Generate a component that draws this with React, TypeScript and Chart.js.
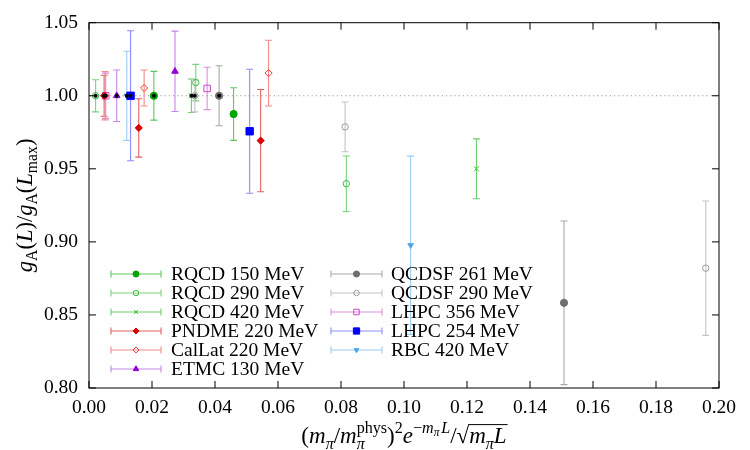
import React, { useEffect, useRef } from "react";
import { Chart, registerables } from "chart.js";
import { drawPoint } from "chart.js/helpers";

Chart.register(...registerables);

// x = (m_pi/m_pi^phys)^2 exp(-m_pi L)/sqrt(m_pi L),  y = gA(L)/gA(Lmax),  err = 1 sigma
const rqcd150X = [0.0206, 0.0459];
const rqcd150Y = [1.0, 0.9875];
const rqcd150Err = [0.0167, 0.018];

const rqcd290X = [0.0021, 0.0339, 0.0817];
const rqcd290Y = [1.0, 1.009, 0.9398];
const rqcd290Err = [0.011, 0.0125, 0.019];

const rqcd420X = [0.0325, 0.123];
const rqcd420Y = [1.0, 0.95];
const rqcd420Err = [0.0115, 0.0205];

const pndmeX = [0.0048, 0.0158, 0.0545];
const pndmeY = [1.0, 0.978, 0.9693];
const pndmeErr = [0.014, 0.02, 0.035];

const callatX = [0.0051, 0.0175, 0.057];
const callatY = [1.0, 1.0053, 1.0155];
const callatErr = [0.0165, 0.0123, 0.0225];

const etmcX = [0.0088, 0.0273];
const etmcY = [1.0, 1.0167];
const etmcErr = [0.0176, 0.0275];

const qcdsf261X = [0.0413, 0.1508];
const qcdsf261Y = [1.0, 0.8583];
const qcdsf261Err = [0.0205, 0.056];

const qcdsf290X = [0.0336, 0.0813, 0.1958];
const qcdsf290Y = [1.0, 0.9787, 0.882];
const qcdsf290Err = [0.011, 0.017, 0.046];

const lhpc356X = [0.0053, 0.0375];
const lhpc356Y = [1.0, 1.005];
const lhpc356Err = [0.0155, 0.0145];

const lhpc254X = [0.0132, 0.051];
const lhpc254Y = [1.0, 0.9757];
const lhpc254Err = [0.0445, 0.0424];

const rbcX = [0.012, 0.1021];
const rbcY = [1.0, 0.8977];
const rbcErr = [0.0305, 0.061];

// normalisation level (the largest volume of each ensemble)
const refLevel = 1.0;

const xRange = [0, 0.2];
const xStep = 0.02;
const yRange = [0.8, 1.05];
const yStep = 0.05;

const FONT = '"Liberation Serif", "DejaVu Serif", serif';

type Series = {
  label: string;
  xs: number[];
  ys: number[];
  errs: number[];
  color: string;
  bar: string;
  style: string;
  filled: boolean;
  radius: number;
  rotation?: number;
};

const series: Series[] = [
  { label: "RQCD 150 MeV", xs: rqcd150X, ys: rqcd150Y, errs: rqcd150Err, color: "#00a400", bar: "#5cc85c", style: "circle", filled: true, radius: 3.6 },
  { label: "RQCD 290 MeV", xs: rqcd290X, ys: rqcd290Y, errs: rqcd290Err, color: "#3cbc3c", bar: "#78d478", style: "circle", filled: false, radius: 3.2 },
  { label: "RQCD 420 MeV", xs: rqcd420X, ys: rqcd420Y, errs: rqcd420Err, color: "#3cbc3c", bar: "#6ccc6c", style: "crossRot", filled: false, radius: 3.6 },
  { label: "PNDME 220 MeV", xs: pndmeX, ys: pndmeY, errs: pndmeErr, color: "#dd0000", bar: "#e46060", style: "rectRot", filled: true, radius: 3.6 },
  { label: "CalLat 220 MeV", xs: callatX, ys: callatY, errs: callatErr, color: "#ee3a3a", bar: "#f28a8a", style: "rectRot", filled: false, radius: 3.6 },
  { label: "ETMC 130 MeV", xs: etmcX, ys: etmcY, errs: etmcErr, color: "#9400d3", bar: "#c487e8", style: "triangle", filled: true, radius: 3.8 },
  { label: "QCDSF 261 MeV", xs: qcdsf261X, ys: qcdsf261Y, errs: qcdsf261Err, color: "#6e6e6e", bar: "#a8a8a8", style: "circle", filled: true, radius: 3.6 },
  { label: "QCDSF 290 MeV", xs: qcdsf290X, ys: qcdsf290Y, errs: qcdsf290Err, color: "#9a9a9a", bar: "#c4c4c4", style: "circle", filled: false, radius: 3.2 },
  { label: "LHPC 356 MeV", xs: lhpc356X, ys: lhpc356Y, errs: lhpc356Err, color: "#cc44cc", bar: "#dc8edc", style: "rect", filled: false, radius: 4.6 },
  { label: "LHPC 254 MeV", xs: lhpc254X, ys: lhpc254Y, errs: lhpc254Err, color: "#0000ff", bar: "#8c8cff", style: "rect", filled: true, radius: 5.2 },
  { label: "RBC 420 MeV", xs: rbcX, ys: rbcY, errs: rbcErr, color: "#4aa8e8", bar: "#9ccdf0", style: "triangle", filled: true, radius: 3.2, rotation: 180 },
];

// ---- small rich-text helper for axis titles (sub/superscripts, overline) ----
type Tok = { t: string; it?: boolean; s?: number; dy?: number; stack?: Tok; over?: boolean };

const xTitle: Tok[] = [
  { t: "(" },
  { t: "m", it: true },
  { t: "π", it: true, s: 0.7, dy: 0.24 },
  { t: "/" },
  { t: "m", it: true },
  { t: "π", it: true, s: 0.7, dy: 0.24, stack: { t: "phys", s: 0.7, dy: -0.45 } },
  { t: ")" },
  { t: "2", s: 0.7, dy: -0.42 },
  { t: "e", it: true },
  { t: "−", s: 0.7, dy: -0.42 },
  { t: "m", it: true, s: 0.7, dy: -0.42 },
  { t: "π", it: true, s: 0.5, dy: -0.3 },
  { t: " " , s: 0.3 },
  { t: "L", it: true, s: 0.7, dy: -0.42 },
  { t: "/" },
  { t: "√" },
  { t: "m", it: true, over: true },
  { t: "π", it: true, s: 0.7, dy: 0.24, over: true },
  { t: "L", it: true, over: true },
];

const yTitle: Tok[] = [
  { t: "g", it: true },
  { t: "A", s: 0.7, dy: 0.24 },
  { t: "(" },
  { t: "L", it: true },
  { t: ")" },
  { t: "/" },
  { t: "g", it: true },
  { t: "A", s: 0.7, dy: 0.24 },
  { t: "(" },
  { t: "L", it: true },
  { t: "max", s: 0.7, dy: 0.24 },
  { t: ")" },
];

function tokFont(tok: Tok, size: number) {
  return `${tok.it ? "italic " : ""}${size * (tok.s ?? 1)}px ${FONT}`;
}

function tokWidth(ctx: CanvasRenderingContext2D, tok: Tok, size: number) {
  ctx.font = tokFont(tok, size);
  let w = ctx.measureText(tok.t).width;
  if (tok.stack) {
    ctx.font = tokFont(tok.stack, size);
    w = Math.max(w, ctx.measureText(tok.stack.t).width);
  }
  return w;
}

function drawRich(ctx: CanvasRenderingContext2D, toks: Tok[], cx: number, base: number, size: number) {
  const widths = toks.map((t) => tokWidth(ctx, t, size));
  const total = widths.reduce((a, b) => a + b, 0);
  let x = cx - total / 2;
  let overStart = -1;
  let overEnd = -1;
  ctx.fillStyle = "#000";
  ctx.textBaseline = "alphabetic";
  ctx.textAlign = "left";
  toks.forEach((tok, i) => {
    ctx.font = tokFont(tok, size);
    ctx.fillText(tok.t, x, base + (tok.dy ?? 0) * size);
    if (tok.stack) {
      ctx.font = tokFont(tok.stack, size);
      ctx.fillText(tok.stack.t, x, base + (tok.stack.dy ?? 0) * size);
    }
    if (tok.over) {
      if (overStart < 0) overStart = x;
      overEnd = x + widths[i];
    }
    x += widths[i];
  });
  if (overStart >= 0) {
    ctx.strokeStyle = "#000";
    ctx.lineWidth = 1;
    ctx.beginPath();
    const yo = base - size * 0.8;
    ctx.moveTo(overStart - 1, yo);
    ctx.lineTo(overEnd + 1, yo);
    ctx.stroke();
  }
}

function setMarkerPaint(ctx: CanvasRenderingContext2D, s: Series) {
  ctx.strokeStyle = s.color;
  ctx.fillStyle = s.filled ? s.color : "rgba(0,0,0,0)";
  ctx.lineWidth = 1;
}

const decorations = {
  id: "decorations",
  beforeDatasetsDraw(chart: any) {
    const { ctx, chartArea: a, scales } = chart;
    const xs = scales.x;
    const ys = scales.y;
    ctx.save();
    ctx.beginPath();
    ctx.rect(a.left, a.top, a.right - a.left, a.bottom - a.top);
    ctx.clip();
    // dotted reference level
    const yr = ys.getPixelForValue(refLevel);
    ctx.strokeStyle = "#9a9a9a";
    ctx.lineWidth = 1;
    ctx.setLineDash([1.2, 3]);
    ctx.beginPath();
    ctx.moveTo(a.left, yr);
    ctx.lineTo(a.right, yr);
    ctx.stroke();
    ctx.setLineDash([]);
    // error bars
    series.forEach((s) => {
      ctx.strokeStyle = s.bar;
      ctx.lineWidth = 1.1;
      s.xs.forEach((xv, i) => {
        const px = xs.getPixelForValue(xv);
        const lo = ys.getPixelForValue(s.ys[i] - s.errs[i]);
        const hi = ys.getPixelForValue(s.ys[i] + s.errs[i]);
        ctx.beginPath();
        ctx.moveTo(px, lo);
        ctx.lineTo(px, hi);
        ctx.moveTo(px - 3.5, lo);
        ctx.lineTo(px + 3.5, lo);
        ctx.moveTo(px - 3.5, hi);
        ctx.lineTo(px + 3.5, hi);
        ctx.stroke();
      });
    });
    ctx.restore();
  },
  afterDatasetsDraw(chart: any) {
    const { ctx, scales } = chart;
    // reference-volume points are marked with a black centre dot
    ctx.save();
    ctx.fillStyle = "#000";
    series.forEach((s) => {
      s.xs.forEach((xv, i) => {
        if (s.ys[i] !== refLevel) return;
        ctx.beginPath();
        ctx.arc(scales.x.getPixelForValue(xv), scales.y.getPixelForValue(s.ys[i]), 2, 0, Math.PI * 2);
        ctx.fill();
      });
    });
    ctx.restore();
  },
  afterDraw(chart: any) {
    const { ctx, chartArea: a, scales } = chart;
    ctx.save();
    // frame with inward ticks on all four sides
    ctx.strokeStyle = "#000";
    ctx.lineWidth = 1;
    ctx.strokeRect(a.left, a.top, a.right - a.left, a.bottom - a.top);
    const tl = 7;
    ctx.beginPath();
    scales.x.ticks.forEach((t: any) => {
      const px = scales.x.getPixelForValue(t.value);
      ctx.moveTo(px, a.bottom);
      ctx.lineTo(px, a.bottom - tl);
      ctx.moveTo(px, a.top);
      ctx.lineTo(px, a.top + tl);
    });
    scales.y.ticks.forEach((t: any) => {
      const py = scales.y.getPixelForValue(t.value);
      ctx.moveTo(a.left, py);
      ctx.lineTo(a.left + tl, py);
      ctx.moveTo(a.right, py);
      ctx.lineTo(a.right - tl, py);
    });
    ctx.stroke();

    // legend: two columns of horizontal error-bar samples
    const rowH = 19;
    const top = 274;
    const cols = [
      { x0: 111, x1: 161, text: 171 },
      { x0: 331, x1: 382, text: 391 },
    ];
    series.forEach((s, i) => {
      const col = cols[i < 6 ? 0 : 1];
      const row = i < 6 ? i : i - 6;
      const y = top + row * rowH;
      ctx.strokeStyle = s.bar;
      ctx.lineWidth = 1.1;
      ctx.beginPath();
      ctx.moveTo(col.x0, y);
      ctx.lineTo(col.x1, y);
      ctx.moveTo(col.x0, y - 3.5);
      ctx.lineTo(col.x0, y + 3.5);
      ctx.moveTo(col.x1, y - 3.5);
      ctx.lineTo(col.x1, y + 3.5);
      ctx.stroke();
      setMarkerPaint(ctx, s);
      drawPoint(ctx, { pointStyle: s.style as any, radius: s.radius * 0.85, rotation: s.rotation ?? 0, borderWidth: 1 }, (col.x0 + col.x1) / 2, y);
      ctx.fillStyle = "#000";
      ctx.font = `19.5px ${FONT}`;
      ctx.textBaseline = "middle";
      ctx.textAlign = "left";
      ctx.fillText(s.label, col.text, y + 1);
    });

    // axis titles
    drawRich(ctx, xTitle, (a.left + a.right) / 2, 443, 23);
    ctx.translate(25, (a.top + a.bottom) / 2);
    ctx.rotate(-Math.PI / 2);
    drawRich(ctx, yTitle, 0, 7, 22.5);
    ctx.restore();
  },
};

export default function App() {
  const ref = useRef<HTMLCanvasElement | null>(null);
  useEffect(() => {
    if (!ref.current) return;
    const tickFont = { family: FONT, size: 19.5 };
    const chart = new Chart(ref.current, {
      type: "scatter",
      data: {
        datasets: series.map((s) => ({
          label: s.label,
          data: s.xs.map((x, i) => ({ x, y: s.ys[i] })),
          pointStyle: s.style as any,
          pointRadius: s.radius,
          pointRotation: s.rotation ?? 0,
          pointBackgroundColor: s.filled ? s.color : "rgba(0,0,0,0)",
          pointBorderColor: s.color,
          pointBorderWidth: 1,
          showLine: false,
        })),
      },
      options: {
        animation: false,
        responsive: true,
        maintainAspectRatio: false,
        layout: { padding: { top: 22, right: 31, left: 0, bottom: 0 } },
        plugins: { legend: { display: false }, tooltip: { enabled: false } },
        scales: {
          x: {
            type: "linear",
            min: xRange[0],
            max: xRange[1],
            afterFit: (s: any) => {
              s.height = 62;
            },
            grid: { display: false, drawTicks: false },
            border: { display: false },
            ticks: {
              stepSize: xStep,
              padding: 8,
              color: "#000",
              font: tickFont,
              maxRotation: 0,
              autoSkip: false,
              callback: (v: any) => Number(v).toFixed(2),
            },
          },
          y: {
            type: "linear",
            min: yRange[0],
            max: yRange[1],
            afterFit: (s: any) => {
              s.width = 89;
            },
            grid: { display: false, drawTicks: false },
            border: { display: false },
            ticks: {
              stepSize: yStep,
              padding: 11,
              color: "#000",
              font: tickFont,
              callback: (v: any) => Number(v).toFixed(2),
            },
          },
        },
      },
      plugins: [decorations],
    });
    return () => chart.destroy();
  }, []);
  return (
    <div style={{ position: "absolute", left: 0, top: 0, width: 750, height: 450 }}>
      <canvas ref={ref} />
    </div>
  );
}
